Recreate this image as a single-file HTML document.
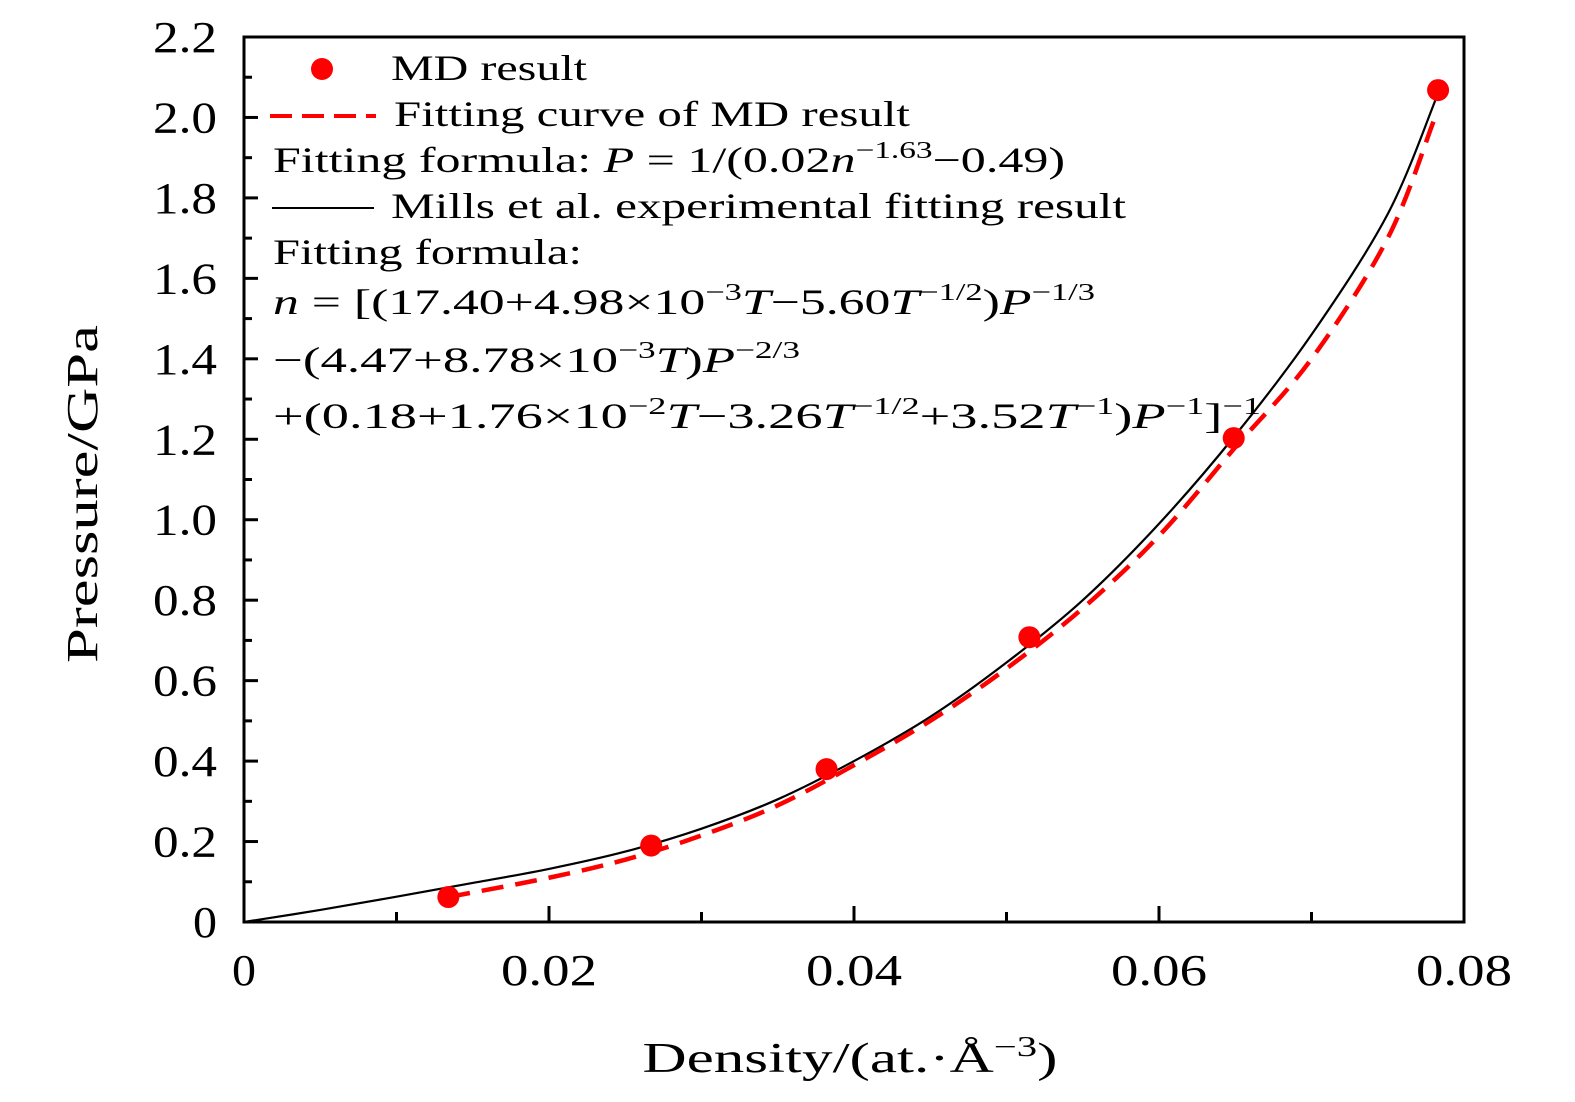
<!DOCTYPE html>
<html><head><meta charset="utf-8"><style>
html,body{margin:0;padding:0;background:#fff;}
svg{display:block;font-family:"Liberation Serif",serif;}
</style></head><body>
<svg id="chart" width="1575" height="1102" viewBox="0 0 1575 1102">
<g id="ticks"></g>
<g id="curves"></g>
<g id="points"></g>
<rect x="244" y="37" width="1220" height="885" fill="none" stroke="#000" stroke-width="3"/>
<g id="labels" font-size="44" fill="#000"></g>
<text x="850" y="1072" font-size="42" text-anchor="middle" textLength="415" lengthAdjust="spacingAndGlyphs">Density/(at.·Å<tspan dy="-16" font-size="28">−3</tspan><tspan dy="16">)</tspan></text>
<text transform="translate(97,494) rotate(-90)" font-size="44" text-anchor="middle" textLength="338" lengthAdjust="spacingAndGlyphs">Pressure/GPa</text>
<g font-size="36">
 <circle cx="322" cy="69" r="11" fill="#f00"/>
 <text x="391" y="80" textLength="196" lengthAdjust="spacingAndGlyphs">MD result</text>
 <line x1="270" y1="116" x2="376" y2="116" stroke="#f00" stroke-width="4" stroke-dasharray="22,10"/>
 <text x="394" y="126" textLength="516" lengthAdjust="spacingAndGlyphs">Fitting curve of MD result</text>
 <text x="273" y="172" textLength="792" lengthAdjust="spacingAndGlyphs">Fitting formula: <tspan font-style="italic">P</tspan> = 1/(0.02<tspan font-style="italic">n</tspan><tspan dy="-14" font-size="24">−1.63</tspan><tspan dy="14">−0.49)</tspan></text>
 <line x1="272" y1="208" x2="374" y2="208" stroke="#000" stroke-width="2"/>
 <text x="391" y="218" textLength="735" lengthAdjust="spacingAndGlyphs">Mills et al. experimental fitting result</text>
 <text x="273" y="264" textLength="309" lengthAdjust="spacingAndGlyphs">Fitting formula:</text>
 <text x="273" y="314" textLength="822" lengthAdjust="spacingAndGlyphs"><tspan font-style="italic">n</tspan> = [(17.40+4.98×10<tspan dy="-14" font-size="24">−3</tspan><tspan dy="14" font-style="italic">T</tspan>−5.60<tspan font-style="italic">T</tspan><tspan dy="-14" font-size="24">−1/2</tspan><tspan dy="14">)</tspan><tspan font-style="italic">P</tspan><tspan dy="-14" font-size="24">−1/3</tspan></text>
 <text x="273" y="372" textLength="527" lengthAdjust="spacingAndGlyphs">−(4.47+8.78×10<tspan dy="-14" font-size="24">−3</tspan><tspan dy="14" font-style="italic">T</tspan>)<tspan font-style="italic">P</tspan><tspan dy="-14" font-size="24">−2/3</tspan></text>
 <text x="273" y="428" textLength="988" lengthAdjust="spacingAndGlyphs">+(0.18+1.76×10<tspan dy="-14" font-size="24">−2</tspan><tspan dy="14" font-style="italic">T</tspan>−3.26<tspan font-style="italic">T</tspan><tspan dy="-14" font-size="24">−1/2</tspan><tspan dy="14">+3.52</tspan><tspan font-style="italic">T</tspan><tspan dy="-14" font-size="24">−1</tspan><tspan dy="14">)</tspan><tspan font-style="italic">P</tspan><tspan dy="-14" font-size="24">−1</tspan><tspan dy="14">]</tspan><tspan dy="-14" font-size="24">−1</tspan></text>
</g>
</svg>
<script>
const mdDensity = [0.0134, 0.0267, 0.0382, 0.0515, 0.0649, 0.0783];
const mdPressure = [0.062, 0.19, 0.38, 0.708, 1.203, 2.068];
const fitDensity = [0.0134, 0.02, 0.025, 0.03, 0.035, 0.04, 0.045, 0.05, 0.055, 0.06, 0.065, 0.07, 0.075, 0.078];
const fitPressure = [0.062, 0.11, 0.155, 0.215, 0.29, 0.39, 0.5, 0.63, 0.78, 0.96, 1.18, 1.40, 1.70, 1.99];
const millsDensity = [0, 0.005, 0.01, 0.015, 0.02, 0.025, 0.03, 0.035, 0.04, 0.045, 0.05, 0.055, 0.06, 0.065, 0.07, 0.075, 0.0782];
const millsPressure = [0, 0.03, 0.063, 0.097, 0.132, 0.175, 0.232, 0.305, 0.4, 0.51, 0.645, 0.8, 0.99, 1.21, 1.46, 1.76, 2.05];
const xTickLabels = ["0", "0.02", "0.04", "0.06", "0.08"];
const yTickLabels = ["0", "0.2", "0.4", "0.6", "0.8", "1.0", "1.2", "1.4", "1.6", "1.8", "2.0", "2.2"];

const NS = "http://www.w3.org/2000/svg";
const X0 = 244, X1 = 1464, Y0 = 922, Y1 = 37;
const xs = v => X0 + v / 0.08 * (X1 - X0);
const ys = v => Y0 - v / 2.2 * (Y0 - Y1);
function mk(tag, attrs, parent) {
  const e = document.createElementNS(NS, tag);
  for (const k in attrs) e.setAttribute(k, attrs[k]);
  parent.appendChild(e);
  return e;
}
function smoothPath(xa, ya) {
  const p = xa.map((x, i) => [xs(x), ys(ya[i])]);
  let d = "M" + p[0][0] + "," + p[0][1];
  for (let i = 0; i < p.length - 1; i++) {
    const a = p[i - 1] || p[i], b = p[i], c = p[i + 1], e = p[i + 2] || c;
    const c1 = [b[0] + (c[0] - a[0]) / 6, b[1] + (c[1] - a[1]) / 6];
    const c2 = [c[0] - (e[0] - b[0]) / 6, c[1] - (e[1] - b[1]) / 6];
    d += "C" + c1 + " " + c2 + " " + c;
  }
  return d;
}
const ticks = document.getElementById("ticks");
for (let i = 0; i <= 8; i++) {
  const x = xs(i * 0.01), len = i % 2 ? 10 : 16;
  const t = mk("line", {x1: x, x2: x, y1: Y0, y2: Y0 - len, stroke: "#000", "stroke-width": 3}, ticks);
  
  
}
for (let i = 0; i <= 22; i++) {
  const y = ys(i * 0.1), len = i % 2 ? 8 : 14;
  const t = mk("line", {x1: X0, x2: X0 + len, y1: y, y2: y, stroke: "#000", "stroke-width": 3}, ticks);
  
  
}
const labels = document.getElementById("labels");
const labW = s => s.length === 1 ? 24 : (s.length === 3 ? 64 : 96);
xTickLabels.forEach((s, i) => {
  const t = mk("text", {x: xs(i * 0.02), y: 985, "text-anchor": "middle", textLength: labW(s), lengthAdjust: "spacingAndGlyphs"}, labels);
  t.textContent = s;
  
  
});
yTickLabels.forEach((s, i) => {
  const t = mk("text", {x: 217, y: ys(i * 0.2) + 15, "text-anchor": "end", textLength: labW(s), lengthAdjust: "spacingAndGlyphs"}, labels);
  t.textContent = s;
  
  
});
const curves = document.getElementById("curves");
const mills = mk("path", {d: smoothPath(millsDensity, millsPressure), fill: "none", stroke: "#000", "stroke-width": 2.2}, curves);


const fit = mk("path", {d: smoothPath(fitDensity, fitPressure), fill: "none", stroke: "#f00", "stroke-width": 4.5, "stroke-dasharray": "22,12"}, curves);


const pts = document.getElementById("points");
mdDensity.forEach((d, i) => {
  const c = mk("circle", {cx: xs(d), cy: ys(mdPressure[i]), r: 11, fill: "#f00"}, pts);
  
  
});
</script>
</body></html>
